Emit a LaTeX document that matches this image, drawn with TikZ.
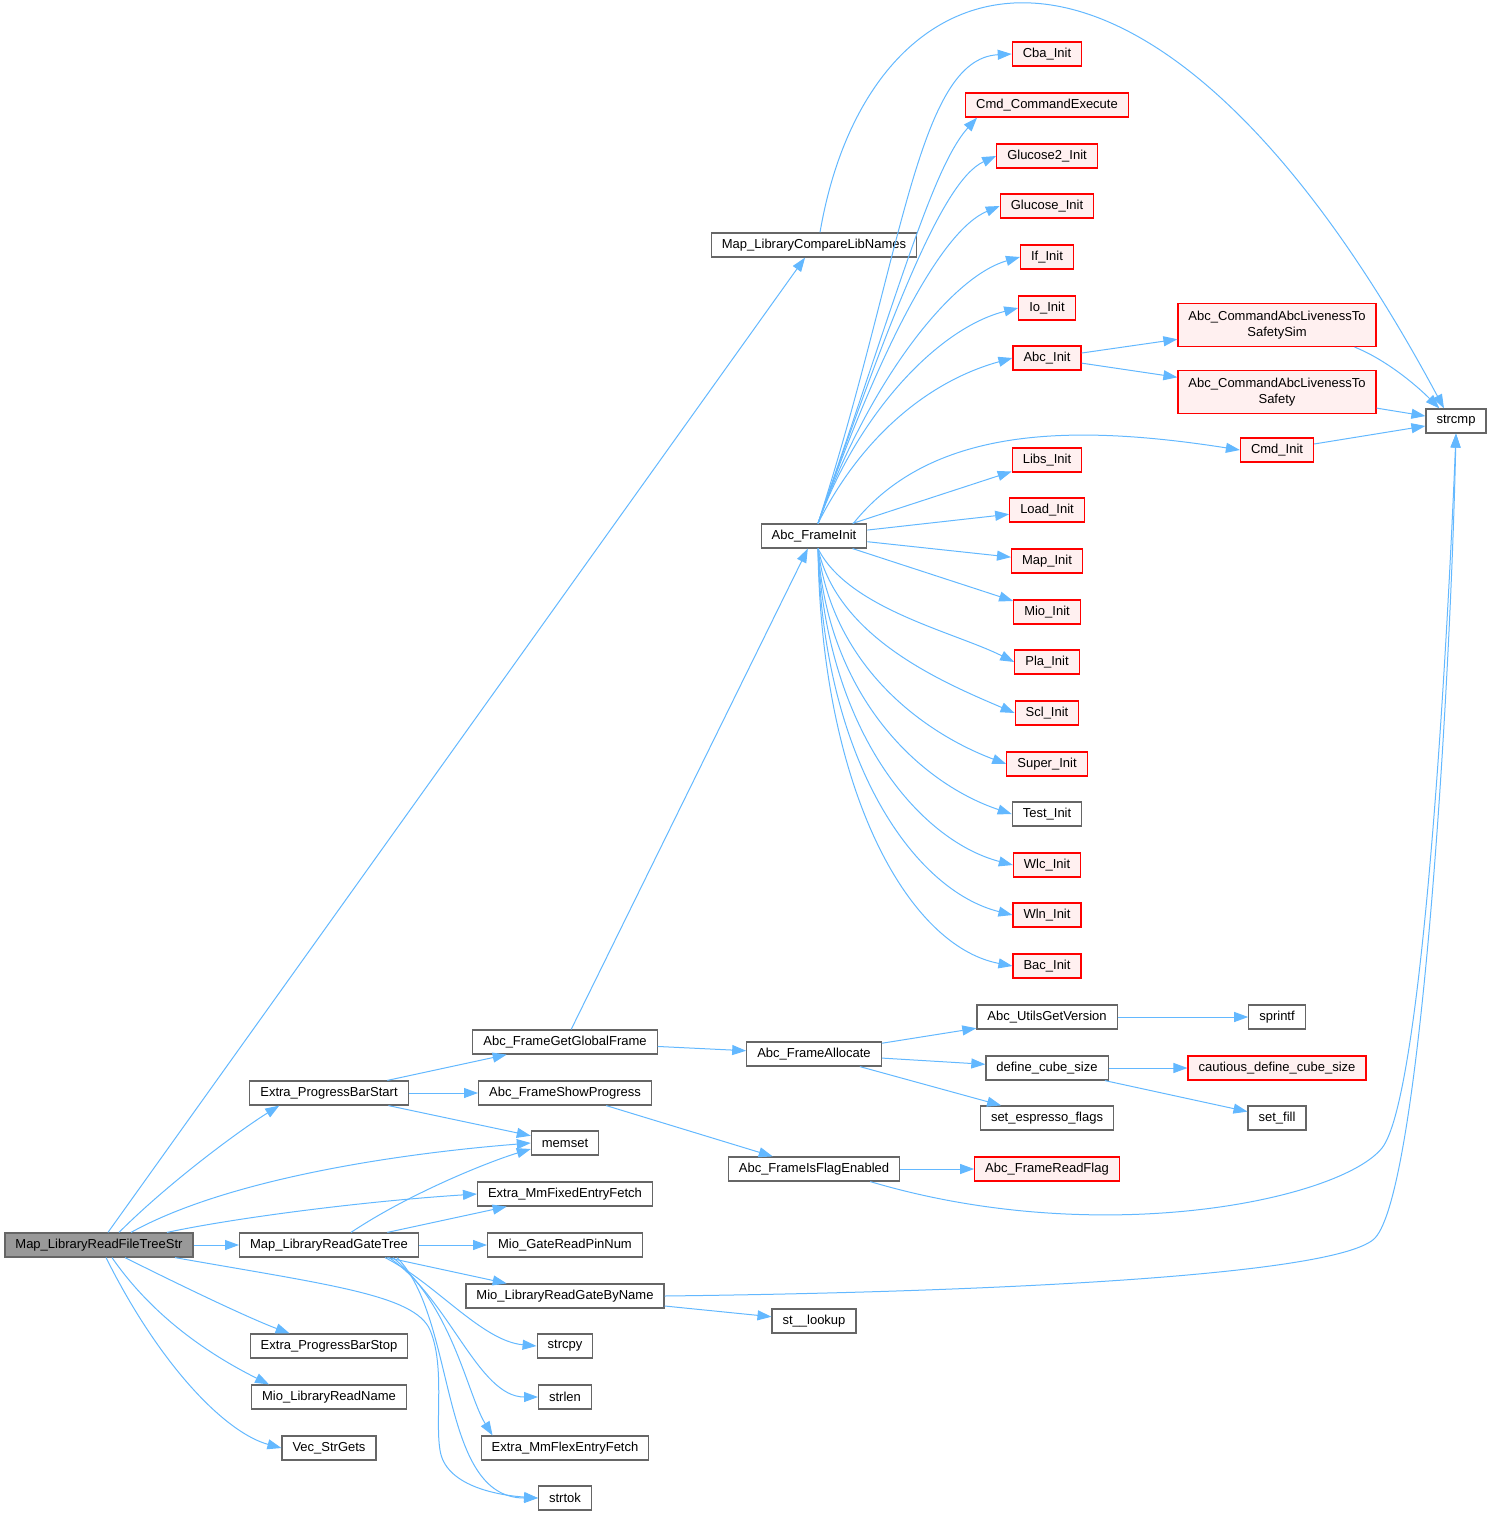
\documentclass[tikz,border=0pt]{standalone}
\usepackage{fontspec}
\setmainfont{Liberation Sans}
\usetikzlibrary{arrows.meta}
\definecolor{callblue}{HTML}{63B8FF}
\definecolor{boxgray}{HTML}{666666}
\definecolor{rootgray}{HTML}{999999}
\definecolor{linkred}{HTML}{FF0000}
\definecolor{linkfill}{HTML}{FFF0F0}
\begin{document}
\begin{tikzpicture}[x=1pt,y=-1pt,
    font=\fontsize{13}{16}\selectfont,
    fn/.style={draw=boxgray,fill=white,line width=1.2pt,inner xsep=10.5pt,inner ysep=3pt,minimum height=24pt},
    fnred/.style={fn,draw=linkred,fill=linkfill},
    fnroot/.style={fn,fill=rootgray},
    call/.style={draw=callblue,line width=1pt,-{Triangle[length=14pt,width=10pt]}}]
    \useasboundingbox (0,0) rectangle (1492,1517);
    % Caller
    \node[fnroot] (root) at (99,1245) {Map\_LibraryReadFileTreeStr};
    % Column 2
    \node[fn] (pbstart) at (329,1093) {Extra\_ProgressBarStart};
    \node[fn] (gatetree) at (329,1245) {Map\_LibraryReadGateTree};
    \node[fn] (pbstop) at (329,1346) {Extra\_ProgressBarStop};
    \node[fn] (libname) at (329,1397) {Mio\_LibraryReadName};
    \node[fn] (strgets) at (329,1448) {Vec\_StrGets};
    % Column 3
    \node[fn] (globframe) at (565,1042) {Abc\_FrameGetGlobalFrame};
    \node[fn] (showprog) at (565,1093) {Abc\_FrameShowProgress};
    \node[fn] (memset) at (565,1143) {memset};
    \node[fn] (fixfetch) at (565,1194) {Extra\_MmFixedEntryFetch};
    \node[fn] (pinnum) at (565,1245) {Mio\_GateReadPinNum};
    \node[fn] (byname) at (565,1296) {Mio\_LibraryReadGateByName};
    \node[fn] (strcpy) at (565,1346) {strcpy};
    \node[fn] (strlen) at (565,1397) {strlen};
    \node[fn] (flexfetch) at (565,1448) {Extra\_MmFlexEntryFetch};
    \node[fn] (strtok) at (565,1498) {strtok};
    % Column 4
    \node[fn] (cmpnames) at (814,245) {Map\_LibraryCompareLibNames};
    \node[fn] (frinit) at (814,536) {Abc\_FrameInit};
    \node[fn] (fralloc) at (814,1054) {Abc\_FrameAllocate};
    \node[fn] (flagon) at (814,1169) {Abc\_FrameIsFlagEnabled};
    \node[fn] (lookup) at (814,1321) {st\_\_lookup};
    % Column 5
    \node[fnred] (cba) at (1047,54) {Cba\_Init};
    \node[fnred] (cmdexec) at (1047,105) {Cmd\_CommandExecute};
    \node[fnred] (gluc2) at (1047,156) {Glucose2\_Init};
    \node[fnred] (gluc) at (1047,206) {Glucose\_Init};
    \node[fnred] (ifinit) at (1047,257) {If\_Init};
    \node[fnred] (ioinit) at (1047,308) {Io\_Init};
    \node[fnred] (abcinit) at (1047,358) {Abc\_Init};
    \node[fnred] (libsinit) at (1047,460) {Libs\_Init};
    \node[fnred] (loadinit) at (1047,510) {Load\_Init};
    \node[fnred] (mapinit) at (1047,561) {Map\_Init};
    \node[fnred] (mioinit) at (1047,612) {Mio\_Init};
    \node[fnred] (plainit) at (1047,662) {Pla\_Init};
    \node[fnred] (sclinit) at (1047,713) {Scl\_Init};
    \node[fnred] (superinit) at (1047,764) {Super\_Init};
    \node[fn] (testinit) at (1047,814) {Test\_Init};
    \node[fnred] (wlcinit) at (1047,865) {Wlc\_Init};
    \node[fnred] (wlninit) at (1047,915) {Wln\_Init};
    \node[fnred] (bacinit) at (1047,966) {Bac\_Init};
    \node[fn] (version) at (1047,1017) {Abc\_UtilsGetVersion};
    \node[fn] (cubesize) at (1047,1068) {define\_cube\_size};
    \node[fn] (espflags) at (1047,1118) {set\_espresso\_flags};
    \node[fnred] (readflag) at (1047,1169) {Abc\_FrameReadFlag};
    % Column 6
    \node[fnred,align=center,minimum height=43pt] (livsim) at (1277,325) {Abc\_CommandAbcLivenessTo\\SafetySim};
    \node[fnred,align=center,minimum height=43pt] (livsafe) at (1277,392) {Abc\_CommandAbcLivenessTo\\Safety};
    \node[fnred] (cmdinit) at (1277,450) {Cmd\_Init};
    \node[fn] (sprintf) at (1277,1017) {sprintf};
    \node[fnred] (cautious) at (1277,1068) {cautious\_define\_cube\_size};
    \node[fn] (setfill) at (1277,1118) {set\_fill};
    % Column 7
    \node[fn] (strcmp) at (1456,421) {strcmp};
    % Calls of the root
    \draw[call] (root) -- (cmpnames);
    \draw[call] ([xshift=20pt]root.north) .. controls +(50,-50) and +(-40,25) .. ([xshift=30pt]pbstart.south west);
    \draw[call] ([xshift=32pt]root.north) .. controls +(90,-50) and +(-150,12) .. (memset.west);
    \draw[call] ([xshift=68pt]root.north) .. controls +(70,-15) and +(-110,7) .. (fixfetch.west);
    \draw[call] (root) -- (gatetree);
    \draw[call] ([xshift=76pt]root.south) .. controls (330,1285) and (415,1295) .. (430,1330)
        .. controls (445,1365) and (435,1420) .. (440,1450)
        .. controls (445,1485) and (495,1495) .. (strtok.west);
    \draw[call] ([xshift=26pt]root.south) .. controls +(60,30) and +(-40,-15) .. ([xshift=40pt]pbstop.north west);
    \draw[call] ([xshift=13pt]root.south) .. controls +(45,65) and +(-50,-25) .. ([xshift=18pt]libname.north west);
    \draw[call] ([xshift=7pt]root.south) .. controls +(55,110) and +(-55,-15) .. (strgets.west);
    % Map_LibraryCompareLibNames
    \draw[call] ([xshift=6pt]cmpnames.north) .. controls (870,-60) and (1150,-140) .. ([xshift=-12pt]strcmp.north);
    % Abc_FrameInit, upper fan
    \foreach \n/\a/\b/\c/\d in {cba/85/-265/-95/5, gluc2/70/-200/-55/25, gluc/60/-170/-60/25,
        ifinit/50/-140/-70/20, ioinit/40/-110/-80/20, abcinit/40/-80/-90/25}
        \draw[call] ([xshift=4pt]frinit.north) .. controls +(\a,\b) and +(\c,\d) .. (\n.west);
    \draw[call] ([xshift=4pt]frinit.north) .. controls +(80,-230) and +(-45,50) .. ([xshift=12pt]cmdexec.south west);
    \draw[call] ([xshift=-14pt]frinit.north east) .. controls +(80,-100) and +(-160,-25) .. (cmdinit.west);
    % Abc_FrameInit, middle
    \foreach \n in {libsinit,loadinit,mapinit,mioinit}
        \draw[call] (frinit) -- (\n);
    % Abc_FrameInit, lower fan
    \foreach \n/\a/\b/\c/\d in {plainit/30/60/-60/-30, sclinit/20/90/-70/-30, superinit/15/120/-80/-30,
        testinit/10/150/-90/-30, wlcinit/8/180/-95/-25, wlninit/5/210/-100/-25, bacinit/3/240/-105/-20}
        \draw[call] ([xshift=4pt]frinit.south) .. controls +(\a,\b) and +(\c,\d) .. (\n.west);
    % Abc_Init and strcmp
    \draw[call] (abcinit) -- (livsim);
    \draw[call] (abcinit) -- (livsafe);
    \draw[call] ([xshift=-22pt]livsim.south east) .. controls +(30,12) and +(-25,-25) .. ([xshift=14pt]strcmp.north west);
    \draw[call] (livsafe) -- (strcmp);
    \draw[call] (cmdinit) -- (strcmp);
    % Extra_ProgressBarStart
    \draw[call] (pbstart) -- (globframe);
    \draw[call] (pbstart) -- (showprog);
    \draw[call] (pbstart) -- (memset);
    \draw[call] (globframe) -- (frinit);
    \draw[call] (globframe) -- (fralloc);
    \draw[call] (fralloc) -- (version);
    \draw[call] (fralloc) -- (cubesize);
    \draw[call] (fralloc) -- (espflags);
    \draw[call] (version) -- (sprintf);
    \draw[call] (cubesize) -- (cautious);
    \draw[call] (cubesize) -- (setfill);
    \draw[call] (showprog) -- (flagon);
    \draw[call] (flagon) -- (readflag);
    \draw[call] ([xshift=-30pt]flagon.south east) .. controls (1100,1250) and (1340,1200) .. (1382,1148)
        .. controls (1420,1100) and (1445,700) .. (strcmp.south);
    % Map_LibraryReadGateTree
    \draw[call] ([xshift=22pt]gatetree.north) .. controls +(60,-40) and +(-40,12) .. ([yshift=-6pt]memset.west);
    \draw[call] (gatetree) -- (fixfetch);
    \draw[call] (gatetree) -- (pinnum);
    \draw[call] (gatetree) -- (byname);
    \draw[call] ([xshift=56pt]gatetree.south) .. controls +(50,25) and +(-55,-5) .. (strcpy.west);
    \draw[call] ([xshift=60pt]gatetree.south) .. controls +(60,40) and +(-60,0) .. (strlen.west);
    \draw[call] ([xshift=64pt]gatetree.south) .. controls +(60,50) and +(-25,-40) .. ([xshift=12pt]flexfetch.north west);
    \draw[call] ([xshift=68pt]gatetree.south) .. controls +(60,60) and +(-100,0) .. (strtok.west);
    % Mio_LibraryReadGateByName
    \draw[call] (byname) -- (lookup);
    \draw[call] (byname.east) .. controls (1000,1292) and (1340,1275) .. (1375,1238)
        .. controls (1420,1190) and (1450,700) .. (strcmp.south);
\end{tikzpicture}
\end{document}
